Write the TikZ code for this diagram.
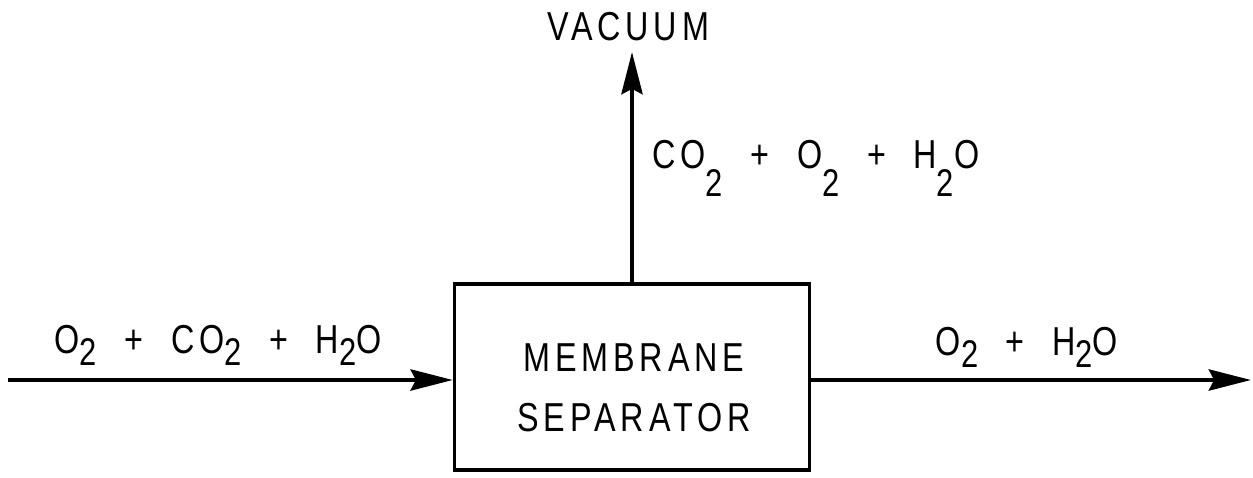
\documentclass[tikz,border=0pt]{standalone}
\usepackage{fontspec}
\setmainfont{Liberation Sans}[FakeStretch=0.8,LetterSpace=12]
\usetikzlibrary{arrows.meta}

% lowered subscript, optional drop
\newcommand{\low}[2][-7pt]{\raisebox{#1}{\fontsize{22}{22}\selectfont #2}}

\tikzset{
    flow/.style = {line width=2.5pt, -{Stealth[length=24pt, width=12pt, inset=3pt]}},
    label/.style = {font=\fontsize{23}{28}\selectfont, inner sep=0pt},
    unit/.style = {draw, line width=2pt, minimum width=7.1cm, minimum height=3.72cm},
    unittext/.style = {align=center, inner sep=0pt, font=\fontsize{23}{34}\selectfont}
}

\begin{document}
\begin{tikzpicture}[x=0.02cm, y=-0.02cm]
    \useasboundingbox (0,0) rectangle (1253,477);

    % separator box
    \node[unit] (sep) at (632,377) {};
    \node[unittext] (septext) at (634,388) {MEMBRANE\\SEPARATOR};

    % end points of the streams
    \coordinate (feed) at (8,380);
    \coordinate (product) at (1251,380);
    \coordinate (vac) at (632,52);

    % streams
    \draw[flow] (feed) -- (sep.west |- feed);
    \draw[flow] (sep.east |- product) -- (product);
    \draw[flow] (sep.north) -- (vac);

    % stream labels
    \node[label, anchor=base] (vacuum) at (628,40) {VACUUM};
    \node[label, anchor=base west] (permeate) at (652,168) {CO\low[-16pt]{2} \ + \ O\low[-16pt]{2} \ + \ H\low[-16pt]{2}O};
    \node[label, anchor=base] (inlet) at (218,353) {O\low{2} \ + \ CO\low{2} \ + \ H\low{2}O};
    \node[label, anchor=base] (outlet) at (1027,355) {O\low{2} \ + \ H\low{2}O};
\end{tikzpicture}
\end{document}
